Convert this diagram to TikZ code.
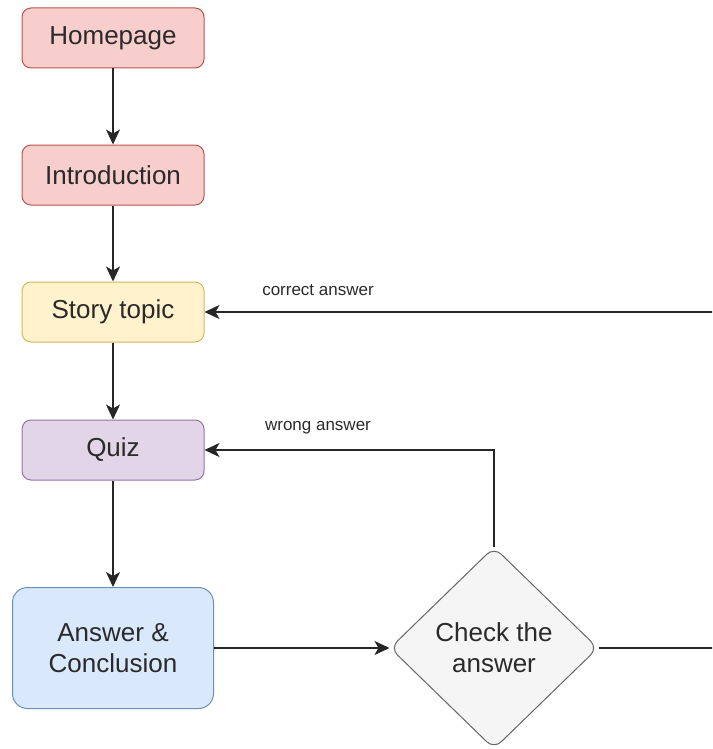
\documentclass[tikz,border=0pt]{standalone}
\usepackage{fontspec}
\setmainfont{Liberation Sans}
\usetikzlibrary{shapes.geometric,arrows.meta}
\definecolor{redF}{HTML}{F8CECC}\definecolor{redS}{HTML}{B85450}
\definecolor{yelF}{HTML}{FFF2CC}\definecolor{yelS}{HTML}{D6B656}
\definecolor{purF}{HTML}{E1D5E7}\definecolor{purS}{HTML}{9673A6}
\definecolor{bluF}{HTML}{DAE8FC}\definecolor{bluS}{HTML}{6C8EBF}
\definecolor{gryF}{HTML}{F5F5F5}\definecolor{gryS}{HTML}{666666}
\definecolor{txt}{HTML}{2A2A2A}
\tikzset{
  box/.style={rectangle, rounded corners=9pt, line width=1pt, minimum width=182pt, minimum height=60pt, inner sep=0pt, font=\fontsize{26}{31}\selectfont, text=txt, align=center},
  bigbox/.style={box, rounded corners=15pt, minimum width=201pt, minimum height=121pt},
  decision/.style={diamond, rounded corners=10pt, line width=1pt, minimum width=208pt, minimum height=202pt, inner sep=0pt, font=\fontsize{26}{31}\selectfont, text=txt, align=center, fill=gryF, draw=gryS},
  conn/.style={line width=1.3pt, draw=black!85, -{Stealth[length=15pt,width=14pt,inset=4pt]}},
  lbl/.style={font=\fontsize{17}{20}\selectfont, text=txt, inner sep=0pt}
}
\begin{document}
\begin{tikzpicture}[x=1pt,y=-1pt]
\useasboundingbox (0,0) rectangle (712,749);
\clip (0,0) rectangle (712,749);
\node[box, fill=redF, draw=redS] (home) at (113,38) {\raisebox{-2pt}{Homepage}};
\node[box, fill=redF, draw=redS] (intro) at (113,175) {\raisebox{-2pt}{Introduction}};
\node[box, fill=yelF, draw=yelS] (story) at (113,312) {\raisebox{-2pt}{Story topic}};
\node[box, fill=purF, draw=purS] (quiz) at (113,450) {\raisebox{-2pt}{Quiz}};
\node[bigbox, fill=bluF, draw=bluS] (ans) at (113,648) {Answer \&\\Conclusion};
\node[decision] (check) at (494,648) {Check the\\answer};
\coordinate (rb) at (760,648);
\coordinate (rt) at (760,312);
\draw[conn] (home) -- (intro);
\draw[conn] (intro) -- (story);
\draw[conn] (story) -- (quiz);
\draw[conn] (quiz) -- (ans);
\draw[conn] (ans) -- (check);
\draw[conn] (check.north) |- (quiz.east);
\draw[conn] (check.east) -- (rb) -- (rt) -- (story.east);
\node[lbl] (lc) at (318,290) {correct answer};
\node[lbl] (lw) at (318,428) {wrong answer};
\end{tikzpicture}
\end{document}
